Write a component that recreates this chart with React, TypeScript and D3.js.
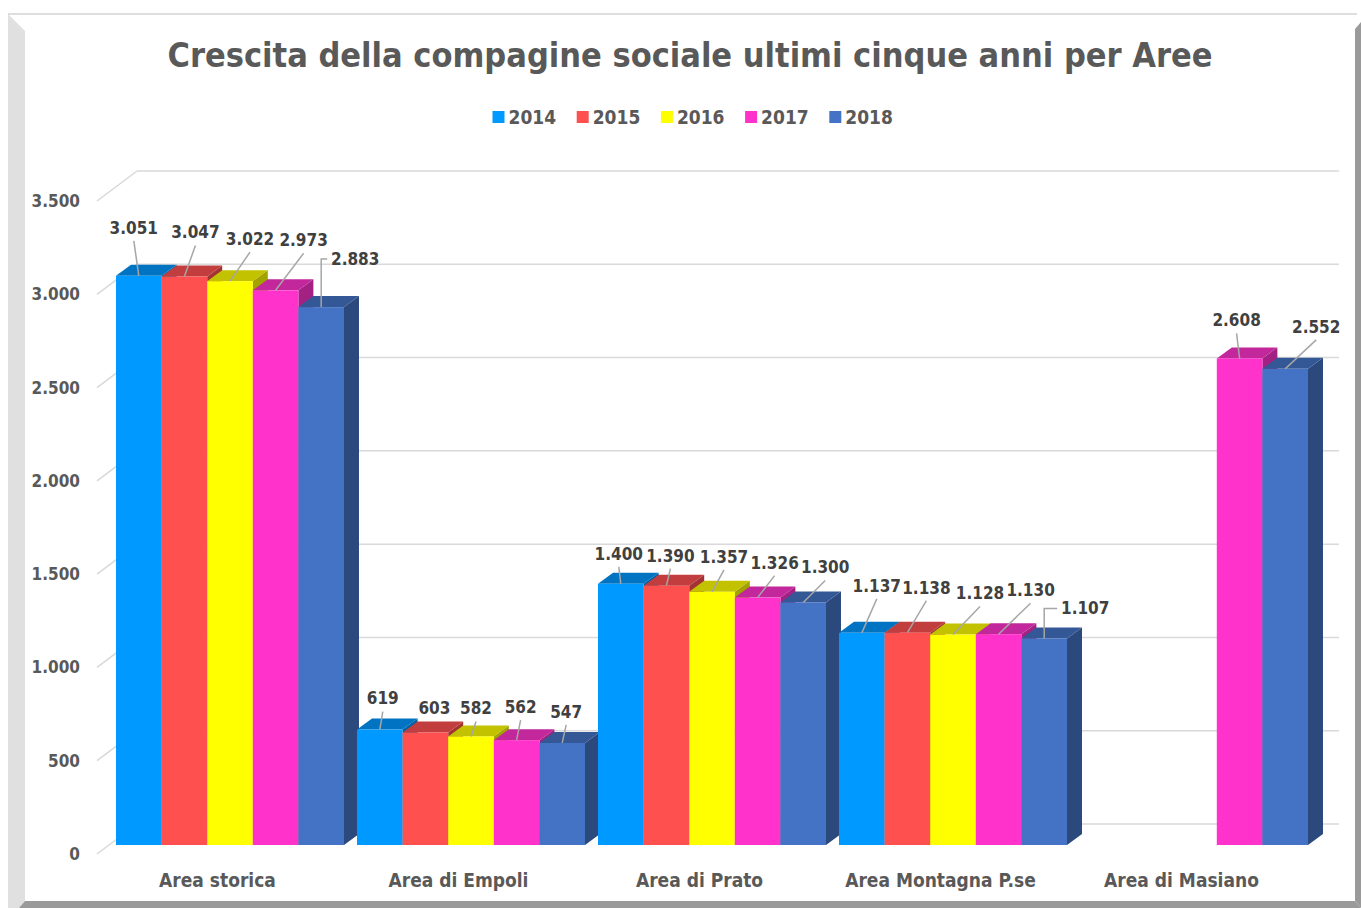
import React from "react";
import * as d3 from "d3";

const categories = [
  "Area storica",
  "Area di Empoli",
  "Area di Prato",
  "Area Montagna P.se",
  "Area di Masiano",
];
const years = ["2014", "2015", "2016", "2017", "2018"];
const v2014 = [3051, 619, 1400, 1137, null];
const v2015 = [3047, 603, 1390, 1138, null];
const v2016 = [3022, 582, 1357, 1128, null];
const v2017 = [2973, 562, 1326, 1130, 2608];
const v2018 = [2883, 547, 1300, 1107, 2552];
const yTicks = [0, 500, 1000, 1500, 2000, 2500, 3000, 3500];
const colors = ["#0099FF", "#FF5050", "#FFFF00", "#FF33CC", "#4472C4"];

const series = [v2014, v2015, v2016, v2017, v2018];

// label nudges (Excel labels were dragged by hand): [dx, dy] from bar centre / front top
const labelNudge = [
  [[-5, -48], [3, -31], [-2, -30], [15, -47], [0, 0]],
  [[11, -44], [9, -24], [4, -30], [19, -45], [0, 0]],
  [[20, -42], [5, -28], [12, -35], [27, -41], [0, 0]],
  [[28, -50], [4, -33], [17, -35], [32, -44], [-3, -38]],
  [[34, -48], [4, -31], [22, -35], [41, -30], [31, -42]],
];
const elbow = [
  [false, false, false, false, false],
  [false, false, false, false, false],
  [false, false, false, false, false],
  [false, false, false, false, false],
  [true, false, false, true, false],
];

const W = 1361;
const H = 908;
const FONT = "'DejaVu Sans Condensed', 'DejaVu Sans', sans-serif";
const TXT = "#595959";

// depth offsets relative to bar front plane
const FRONT = { dx: -12.5, dy: 9 };
const BACK = { dx: 15, dy: -11 };
const WALL = { dx: 27.5, dy: -21 };

const fmt = d3.formatLocale({ thousands: ".", grouping: [3], decimal: ",", currency: ["", ""] }).format(",d");

export default function App() {
  const x0 = d3
    .scaleBand<string>()
    .domain(categories)
    .range([109.5, 1314.5])
    .paddingInner(0.054)
    .paddingOuter(0.027);
  const x1 = d3.scaleBand<string>().domain(years).range([0, x0.bandwidth()]);
  const y = d3.scaleLinear().domain([0, 3500]).range([845, 192]);
  const bw = x1.bandwidth();
  const left = 109.5;
  const right = 1311.5;

  const shade = (c: string, k: number) => {
    const r = d3.rgb(c);
    return d3.rgb(r.r * k, r.g * k, r.b * k).formatHex();
  };

  const bars: any[] = [];
  const labels: any[] = [];
  categories.forEach((cat, ci) => {
    years.forEach((yr, si) => {
      const v = series[si][ci];
      if (v == null) return;
      const xl = (x0(cat) as number) + (x1(yr) as number);
      const xr = xl + bw;
      const yt = y(v);
      const yb = y(0);
      const c = colors[si];
      bars.push(
        <g key={`b${ci}-${si}`}>
          <polygon
            points={`${xr},${yt} ${xr + BACK.dx},${yt + BACK.dy} ${xr + BACK.dx},${yb + BACK.dy} ${xr},${yb}`}
            fill={shade(c, 0.64)}
          />
          <polygon
            points={`${xl},${yt} ${xr},${yt} ${xr + BACK.dx},${yt + BACK.dy} ${xl + BACK.dx},${yt + BACK.dy}`}
            fill={shade(c, 0.76)}
          />
          <rect x={xl} y={yt} width={bw} height={yb - yt} fill={c} />
        </g>
      );
      const cx = xl + bw / 2;
      const [ndx, ndy] = labelNudge[si][ci];
      const lx = cx + ndx;
      const ly = yt + ndy;
      const text = fmt(v);
      let leader = null;
      if (elbow[si][ci]) {
        const lw = text.length * 9.6;
        leader = (
          <polyline
            points={`${lx - lw / 2 - 4},${ly} ${cx},${ly} ${cx},${yt}`}
            fill="none"
            stroke="#A6A6A6"
            strokeWidth={1.5}
          />
        );
      } else if (ndy <= -27) {
        leader = (
          <line x1={lx} y1={ly + 13} x2={cx} y2={yt} stroke="#A6A6A6" strokeWidth={1.5} />
        );
      }
      labels.push(
        <g key={`l${ci}-${si}`}>
          {leader}
          <text
            x={lx}
            y={ly}
            dy="0.35em"
            textAnchor="middle"
            fontSize={17}
            fontWeight="bold"
            fill="#404040"
            fontFamily={FONT}
          >
            {text}
          </text>
        </g>
      );
    });
  });

  const legendStep = 84.2;
  const legendStart = 693 - (legendStep * years.length - 20) / 2;

  return (
    <div style={{ position: "absolute", left: 0, top: 0 }}>
      <svg width={W} height={H} style={{ display: "block" }}>
        <rect x={0} y={0} width={W} height={H} fill="#fff" />
        {/* frame */}
        <line x1={8} y1={14} x2={1357} y2={14} stroke="#DEDEDE" strokeWidth={2} />
        <polygon points="8,14 25,31 25,901 19,908 8,908" fill="#E0E0E0" />
        <polygon points="19,908 25,901 1355,901 1361,908" fill="#9A9A9A" />
        <polygon points="1355,29 1361,22 1361,908 1355,901" fill="#9A9A9A" />

        <text
          x={690}
          y={67}
          textAnchor="middle"
          fontSize={34}
          fontWeight="bold"
          fill={TXT}
          fontFamily={FONT}
        >
          Crescita della compagine sociale ultimi cinque anni per Aree
        </text>

        {years.map((yr, i) => (
          <g key={yr} transform={`translate(${legendStart + i * legendStep},117)`}>
            <rect x={0} y={-6} width={12} height={12} fill={colors[i]} />
            <text x={16} y={0} dy="0.36em" fontSize={19} fontWeight="bold" fill={TXT} fontFamily={FONT}>
              {yr}
            </text>
          </g>
        ))}

        {/* walls gridlines */}
        {yTicks.map((t) => (
          <g key={t}>
            <line
              x1={left + FRONT.dx}
              y1={y(t) + FRONT.dy}
              x2={left + WALL.dx}
              y2={y(t) + WALL.dy}
              stroke="#D9D9D9"
              strokeWidth={1.5}
            />
            <line
              x1={left + WALL.dx}
              y1={y(t) + WALL.dy}
              x2={right + WALL.dx}
              y2={y(t) + WALL.dy}
              stroke="#D9D9D9"
              strokeWidth={1.5}
            />
            <text
              x={80}
              y={y(t) + FRONT.dy}
              dy="0.35em"
              textAnchor="end"
              fontSize={17}
              fontWeight="bold"
              fill={TXT}
              fontFamily={FONT}
            >
              {fmt(t)}
            </text>
          </g>
        ))}

        {bars}
        {labels}

        {categories.map((cat) => (
          <text
            key={cat}
            x={(x0(cat) as number) + x0.bandwidth() / 2 + FRONT.dx}
            y={y(0) + FRONT.dy + 26}
            dy="0.35em"
            textAnchor="middle"
            fontSize={19}
            fontWeight="bold"
            fill={TXT}
            fontFamily={FONT}
          >
            {cat}
          </text>
        ))}
      </svg>
    </div>
  );
}
